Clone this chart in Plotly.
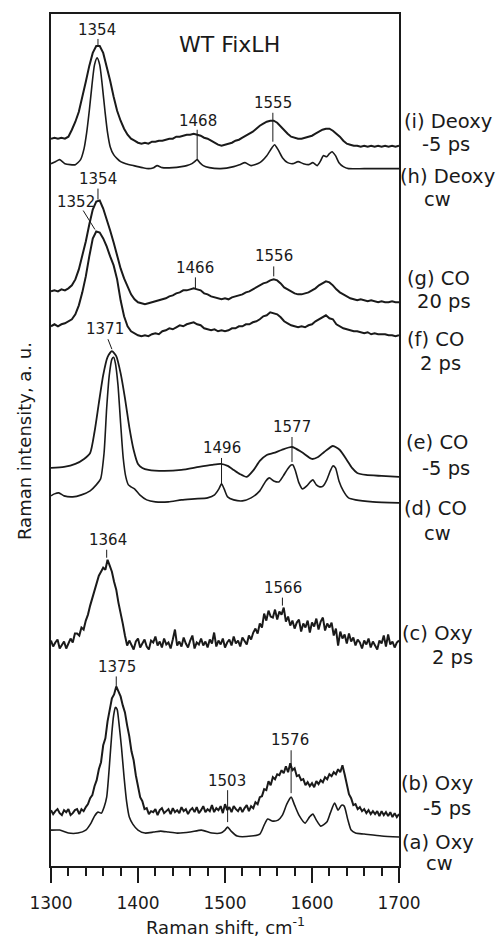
import plotly.graph_objects as go

# ---------------- data (intensities in arbitrary units, relative to each trace's baseline) -------------
grid4 = list(range(1300, 1701, 4))
grid25 = [1300 + 2.5 * k for k in range(161)]

# (i) Deoxy -5 ps
deoxy_m5ps = [8, 9, 8, 9, 8, 10, 17, 25, 35, 49,
              65, 81, 94, 101, 101, 94, 81, 66, 50, 36,
              26, 18, 12, 8, 6, 4, 3, 4, 3, 5,
              5, 6, 6, 7, 8, 8, 10, 10, 11, 12,
              12, 13, 12, 11, 9, 8, 6, 4, 2, 1,
              2, 3, 4, 6, 7, 9, 11, 13, 15, 18,
              21, 23, 25, 26, 26, 24, 20, 16, 13, 10,
              9, 8, 8, 9, 10, 11, 13, 15, 17, 18,
              18, 16, 13, 10, 6, 3, 2, 1, 1, 0,
              1, 0, 1, 0, 1, 0, 1, 0, 1, 0,
              1]

# (h) Deoxy cw
deoxy_cw_x = [1300, 1305, 1310, 1316, 1322, 1328, 1334, 1338, 1341, 1344,
              1347, 1350, 1353, 1356, 1359, 1362, 1365, 1368, 1372, 1376,
              1380, 1386, 1395, 1405, 1412, 1418, 1422, 1428, 1440, 1450,
              1456, 1462, 1465, 1468, 1471, 1475, 1482, 1495, 1510, 1517,
              1523, 1530, 1540, 1548, 1554, 1557, 1561, 1566, 1572, 1578,
              1584, 1590, 1596, 1601, 1606, 1610, 1613, 1617, 1620, 1623,
              1627, 1631, 1636, 1642, 1660, 1700]
deoxy_cw = [5, 7, 9, 5, 4, 4, 9, 20, 36, 58,
            83, 104, 111, 104, 83, 58, 36, 22, 14, 10,
            7, 5, 3, 1, 0, 1, 3, 1, 1, 2,
            3, 5, 7, 9, 6, 3, 1, 0, 2, 4,
            6, 3, 6, 13, 21, 24, 19, 11, 6, 5,
            7, 5, 4, 6, 3, 8, 13, 12, 15, 17,
            13, 6, 2, 0, 0, 0]

# (g) CO 20 ps
co_20ps = [13, 14, 13, 15, 14, 16, 19, 25, 35, 48,
           63, 80, 95, 103, 104, 96, 86, 74, 62, 49,
           36, 26, 17, 10, 5, 2, 1, 0, 1, 2,
           3, 4, 5, 6, 8, 9, 11, 12, 14, 14,
           15, 16, 15, 14, 11, 10, 8, 7, 6, 5,
           6, 5, 7, 8, 9, 10, 12, 13, 15, 17,
           19, 21, 22, 24, 25, 24, 21, 17, 15, 13,
           11, 10, 10, 11, 12, 14, 16, 19, 21, 23,
           22, 19, 15, 12, 10, 8, 6, 5, 4, 5,
           4, 3, 4, 3, 2, 3, 2, 2, 3, 2,
           2]

# (f) CO 2 ps
co_2ps = [10, 12, 10, 12, 13, 15, 17, 22, 31, 44,
          60, 80, 98, 105, 104, 98, 90, 80, 71, 57,
          36, 20, 10, 5, 3, 1, 0, 1, 0, 2,
          3, 2, 5, 6, 8, 7, 9, 11, 10, 12,
          13, 14, 12, 11, 8, 7, 6, 7, 5, 6,
          5, 6, 8, 8, 10, 10, 12, 12, 14, 15,
          17, 20, 21, 24, 23, 22, 19, 15, 13, 11,
          10, 9, 10, 9, 11, 12, 15, 17, 19, 21,
          18, 17, 12, 10, 8, 7, 6, 5, 5, 4,
          3, 4, 2, 3, 2, 2, 2, 1, 1, 0,
          1]

# (e) CO -5 ps
co_m5ps_x = [1300, 1315, 1328, 1338, 1345, 1350, 1355, 1360, 1365, 1370,
             1375, 1380, 1385, 1390, 1395, 1400, 1405, 1412, 1430, 1450,
             1470, 1485, 1495, 1503, 1510, 1517, 1525, 1533, 1540, 1548,
             1556, 1565, 1577, 1588, 1600, 1607, 1614, 1624, 1632, 1640,
             1646, 1652, 1662, 1680, 1700]
co_m5ps = [9, 10, 13, 18, 24, 45, 74, 102, 120, 126,
           121, 104, 79, 50, 27, 13, 9, 7, 6, 7,
           10, 12, 13, 11, 7, 3, 0, 7, 16, 22,
           24, 27, 30, 25, 18, 20, 25, 31, 27, 17,
           9, 4, 2, 1, 0]

# (d) CO cw
co_cw_x = [1300, 1304, 1309, 1315, 1325, 1335, 1345, 1352, 1357, 1361,
           1364, 1367, 1370, 1372, 1374, 1377, 1380, 1383, 1386, 1389,
           1392, 1396, 1402, 1410, 1420, 1435, 1450, 1465, 1480, 1488,
           1493, 1496, 1499, 1503, 1510, 1520, 1530, 1540, 1547, 1551,
           1556, 1562, 1567, 1572, 1576, 1578, 1581, 1585, 1589, 1594,
           1598, 1601, 1605, 1609, 1613, 1617, 1621, 1624, 1627, 1631,
           1636, 1642, 1650, 1670, 1700]
co_cw = [7, 9, 10, 7, 6, 8, 12, 18, 24, 50,
         95, 128, 144, 146, 140, 118, 80, 45, 26, 18,
         16, 14, 8, 3, 1, 1, 3, 4, 5, 8,
         14, 19, 14, 6, 3, 2, 5, 12, 22, 25,
         22, 21, 27, 34, 38, 38, 32, 20, 14, 17,
         21, 23, 18, 16, 17, 23, 32, 37, 35, 22,
         12, 5, 3, 1, 0]

# (c) Oxy 2 ps
oxy_2ps = [7, 1, 5, 8, -1, 3, 6, -1, 4, 9,
           5, 14, 14, 12, 20, 18, 27, 33, 42, 50,
           57, 64, 72, 76, 80, 78, 88, 82, 76, 66,
           58, 45, 36, 24, 12, 2, 7, 3, -2, 6,
           9, 0, 4, 8, 1, -2, 7, 5, 11, 2,
           6, 0, 9, 3, 5, -1, 8, 18, 2, 6,
           1, 10, 4, 0, 7, 12, -1, 5, 3, 9,
           2, 6, 0, 8, 4, 15, 1, 7, 3, 9,
           0, 5, 8, 2, 11, 4, 7, 1, 10, 6,
           3, 12, 8, 15, 19, 14, 24, 20, 34, 27,
           37, 31, 30, 38, 28, 36, 33, 40, 26, 31,
           22, 27, 19, 25, 28, 16, 24, 20, 27, 15,
           25, 21, 29, 18, 26, 30, 17, 24, 20, 25,
           12, 19, 2, 16, 9, 13, 4, 14, 6, 10,
           2, 8, 5, -1, 7, 3, 9, 0, 6, 2,
           -2, 7, 4, 12, 1, 13, 3, 6, 0, 5,
           7]

# (b) Oxy -5 ps
oxy_m5ps = [7, 3, 6, 8, 4, 2, 7, 5, 8, 2,
            4, 7, 8, 3, 8, 6, 10, 13, 19, 22,
            31, 37, 48, 55, 72, 79, 96, 106, 119, 123,
            131, 126, 121, 112, 105, 92, 81, 66, 57, 42,
            32, 20, 16, 8, 9, 3, 6, 5, 8, 2,
            7, 9, 4, 6, 8, 3, 9, 5, 7, 4,
            10, 6, 8, 3, 7, 9, 5, 10, 4, 7,
            11, 5, 8, 6, 12, 5, 9, 7, 11, 4,
            13, 7, 10, 5, 11, 8, 6, 10, 5, 9,
            12, 6, 11, 9, 15, 13, 20, 21, 28, 27,
            36, 32, 40, 38, 43, 42, 47, 44, 51, 45,
            54, 47, 49, 41, 42, 37, 38, 32, 35, 31,
            34, 30, 36, 33, 37, 35, 40, 38, 43, 41,
            45, 43, 48, 45, 52, 43, 33, 23, 19, 12,
            13, 8, 10, 6, 8, 4, 7, 3, 6, 3,
            6, 1, 6, 2, 5, 1, 5, 0, 4, 0,
            3]

# (a) Oxy cw
oxy_cw_x = [1300, 1310, 1320, 1331, 1340, 1346, 1350, 1354, 1358, 1361,
            1364, 1367, 1370, 1372, 1374, 1376, 1378, 1381, 1384, 1387,
            1390, 1394, 1400, 1408, 1418, 1426, 1435, 1445, 1460, 1473,
            1485, 1495, 1500, 1503, 1507, 1514, 1530, 1540, 1545, 1549,
            1555, 1561, 1566, 1571, 1576, 1580, 1585, 1592, 1597, 1601,
            1605, 1610, 1617, 1621, 1626, 1630, 1634, 1637, 1641, 1645,
            1650, 1660, 1680, 1700]
oxy_cw = [7, 7, 4, 4, 7, 14, 21, 25, 24, 30,
          40, 70, 105, 122, 130, 128, 115, 90, 60, 35,
          20, 13, 7, 4, 5, 6, 5, 4, 5, 7,
          4, 4, 7, 10, 6, 1, 1, 3, 12, 18,
          16, 17, 22, 33, 40, 32, 22, 14, 20, 23,
          17, 11, 15, 24, 34, 27, 32, 31, 18, 7,
          4, 3, 1, 0]

# vertical stacking offsets of each trace
offsets = {"i": 721, "h": 699, "g": 563, "f": 531, "e": 390,
           "d": 364, "c": 219, "b": 49, "a": 29}

traces = [
    ("i", grid4, deoxy_m5ps, 2.0, "linear"),
    ("h", deoxy_cw_x, deoxy_cw, 1.6, "spline"),
    ("g", grid4, co_20ps, 2.0, "linear"),
    ("f", grid4, co_2ps, 2.0, "linear"),
    ("e", co_m5ps_x, co_m5ps, 1.8, "spline"),
    ("d", co_cw_x, co_cw, 1.6, "spline"),
    ("c", grid25, oxy_2ps, 2.0, "linear"),
    ("b", grid25, oxy_m5ps, 2.0, "linear"),
    ("a", oxy_cw_x, oxy_cw, 1.6, "spline"),
]

right_labels = [
    ("i", "(i) Deoxy", "-5 ps", 746, 723, 448, 446),
    ("h", "(h) Deoxy", "cw", 691, 668, 447, 437),
    ("g", "(g) CO", "20 ps", 589, 566, 438, 444),
    ("f", "(f) CO", "2 ps", 528, 504, 436, 441),
    ("e", "(e) CO", "-5 ps", 424, 398, 437, 446),
    ("d", "(d) CO", "cw", 358, 333, 436, 437),
    ("c", "(c) Oxy", "2 ps", 233, 209, 437, 452),
    ("b", "(b) Oxy", "-5 ps", 83, 58, 437, 447),
    ("a", "(a) Oxy", "cw", 24, 3, 438, 439),
]

# peak labels: text, text x, text y, line x0, y0, x1, y1
peak_labels = [
    ("1354", 1353, 838, 1354, 829, 1354, 822),
    ("1468", 1469, 747, 1468, 738, 1468, 708),
    ("1555", 1555, 765, 1555, 755, 1555, 726),
    ("1354", 1354, 689, 1354, 679, 1354, 668),
    ("1352", 1329, 666, 1337, 657, 1350.5, 638),
    ("1466", 1465.5, 599, 1466, 590, 1466, 579),
    ("1556", 1556, 611, 1556, 601, 1556, 591),
    ("1371", 1362, 538, 1365.5, 528, 1370, 518),
    ("1496", 1496.6, 419, 1496, 409, 1496, 383),
    ("1577", 1577, 440, 1577, 430, 1577, 405),
    ("1364", 1365.5, 327, 1364, 317, 1364, 309),
    ("1566", 1566.7, 279, 1566, 269, 1566, 261),
    ("1375", 1376, 199, 1375, 190, 1375, 180),
    ("1503", 1502, 85, 1503, 76, 1503, 44),
    ("1576", 1575, 126, 1576, 116, 1576, 73),
]

# ---------------- figure ----------------
W, H = 497, 948
L, R, T, B = 51, 399, 12, 866
INK = "#1a1a1a"
FONT = "DejaVu Sans"


def px_to_paper_x(px):
    return (px - L) / (R - L)


def px_to_paper_y(py):
    return (B - py) / (B - T)


fig = go.Figure()
for key, xs, vals, lw, shape in traces:
    fig.add_trace(go.Scatter(
        x=xs, y=[v + offsets[key] for v in vals], mode="lines",
        line=dict(color=INK, width=lw, shape=shape, smoothing=0.6),
        showlegend=False, hoverinfo="skip"))

annotations = []
shapes = []
for txt, tx, ty, x0, y0, x1, y1 in peak_labels:
    annotations.append(dict(x=tx, y=ty, xref="x", yref="y", text=txt,
                            showarrow=False, font=dict(size=15, color=INK, family=FONT),
                            xanchor="center", yanchor="middle"))
    shapes.append(dict(type="line", xref="x", yref="y", x0=x0, y0=y0, x1=x1, y1=y1,
                       line=dict(color=INK, width=1)))

for key, l1, l2, y1, y2, c1, c2 in right_labels:
    annotations.append(dict(x=px_to_paper_x(c1), y=y1, xref="paper", yref="y", text=l1,
                            showarrow=False, font=dict(size=19.5, color=INK, family=FONT),
                            xanchor="center", yanchor="middle"))
    annotations.append(dict(x=px_to_paper_x(c2), y=y2, xref="paper", yref="y", text=l2,
                            showarrow=False, font=dict(size=19.5, color=INK, family=FONT),
                            xanchor="center", yanchor="middle"))

annotations.append(dict(x=1504.6, y=823, xref="x", yref="y", text="WT FixLH",
                        showarrow=False, font=dict(size=22, color=INK, family=FONT),
                        xanchor="center", yanchor="middle"))
annotations.append(dict(x=px_to_paper_x(225), y=px_to_paper_y(926), xref="paper", yref="paper",
                        text="Raman shift, cm<sup>-1</sup>", showarrow=False,
                        font=dict(size=18, color=INK, family=FONT),
                        xanchor="center", yanchor="middle"))
annotations.append(dict(x=px_to_paper_x(25), y=px_to_paper_y(440), xref="paper", yref="paper",
                        text="Raman intensity, a. u.", textangle=-90, showarrow=False,
                        font=dict(size=18, color=INK, family=FONT),
                        xanchor="center", yanchor="middle"))

fig.update_layout(
    width=W, height=H,
    margin=dict(l=L, r=W - R, t=T, b=H - B, pad=0),
    paper_bgcolor="white", plot_bgcolor="white",
    font=dict(family=FONT, color=INK),
    annotations=annotations, shapes=shapes,
    xaxis=dict(range=[1300, 1700], showgrid=False, zeroline=False,
               showline=True, linecolor=INK, linewidth=1.8, mirror=True,
               ticks="outside", ticklen=15, tickwidth=1.5, tickcolor=INK,
               tickmode="array", tickvals=[1300, 1400, 1500, 1600, 1700],
               ticktext=["1300", "1400", "1500", "1600", "1700"],
               tickfont=dict(size=17, color=INK, family=FONT), ticklabelstandoff=6,
               minor=dict(dtick=20, ticks="outside", ticklen=8, tickwidth=1.5, tickcolor=INK)),
    yaxis=dict(range=[0, B - T], showgrid=False, zeroline=False,
               showline=True, linecolor=INK, linewidth=1.8, mirror=True,
               ticks="", showticklabels=False),
)

fig.write_html("out.html", config={"displayModeBar": False},
               post_script="document.body.style.margin='0';document.body.style.overflow='hidden';")
